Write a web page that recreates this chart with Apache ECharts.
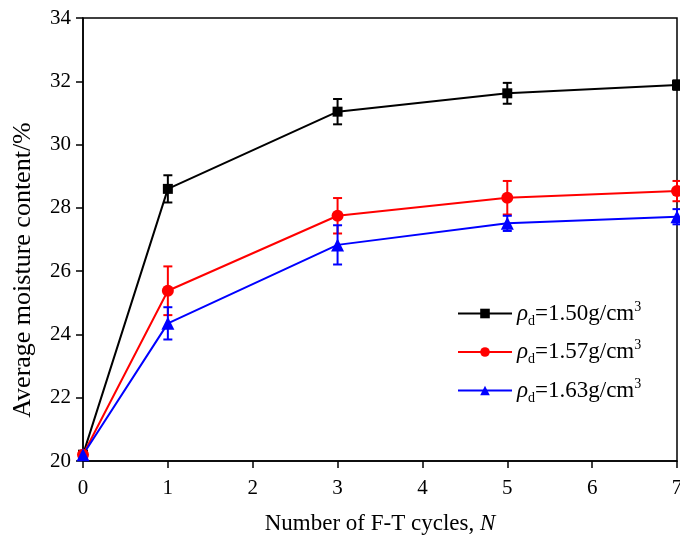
<!DOCTYPE html>
<html>
<head>
<meta charset="utf-8">
<script src="https://cdn.jsdelivr.net/npm/echarts@6/dist/echarts.min.js"></script>
<style>
  html, body { margin: 0; padding: 0; background: #fff; }
  #main { width: 680px; height: 541px; }
</style>
</head>
<body>
<div id="main"></div>
<script>
// F-T cycles
var cycles = [0, 1, 3, 5, 7];
var densities = ['1.50', '1.57', '1.63'];
var colors = ['#000000', '#ff0000', '#0000ff'];
var symbols = ['rect', 'circle', 'triangle'];

// average moisture content (%) and error
var m150 = [20.2, 28.6, 31.04, 31.62, 31.88];
var e150 = [0, 0.43, 0.4, 0.33, 0.15];
var m157 = [20.2, 25.38, 27.75, 28.32, 28.53];
var e157 = [0, 0.77, 0.56, 0.53, 0.32];
var m163 = [20.2, 24.35, 26.83, 27.51, 27.72];
var e163 = [0, 0.51, 0.62, 0.24, 0.24];

var means = [m150, m157, m163];
var errs = [e150, e157, e163];

var font = 'Liberation Serif';

var chartDom = document.getElementById('main');
var myChart = echarts.init(chartDom);
var option;

var series = [];
densities.forEach(function (d, i) {
  series.push({
    name: d,
    type: 'line',
    data: cycles.map(function (c, j) { return [c, means[i][j]]; }),
    symbol: symbols[i],
    symbolSize: [10, 12, 13][i],
    lineStyle: { color: colors[i], width: 2 },
    itemStyle: { color: colors[i] },
    z: 3
  });
});
densities.forEach(function (d, i) {
  series.push({
    name: d + ' err',
    type: 'custom',
    data: cycles.map(function (c, j) { return [c, means[i][j], errs[i][j]]; }),
    z: 4,
    renderItem: function (params, api) {
      var x = api.value(0), y = api.value(1), e = api.value(2);
      if (!e) return;
      var top = api.coord([x, y + e]);
      var bot = api.coord([x, y - e]);
      var w = 4.5;
      var st = { stroke: colors[i], lineWidth: 2 };
      return {
        type: 'group',
        children: [
          { type: 'line', shape: { x1: top[0], y1: top[1], x2: bot[0], y2: bot[1] }, style: st },
          { type: 'line', shape: { x1: top[0] - w, y1: top[1], x2: top[0] + w, y2: top[1] }, style: st },
          { type: 'line', shape: { x1: bot[0] - w, y1: bot[1], x2: bot[0] + w, y2: bot[1] }, style: st }
        ]
      };
    }
  });
});

option = {
  backgroundColor: '#fff',
  animation: false,
  grid: {
    left: 83, right: 3, top: 18, bottom: 80,
    outerBoundsMode: 'none',
    containLabel: false,
    show: true, borderColor: '#000', borderWidth: 1.5
  },
  legend: {
    data: densities,
    orient: 'vertical',
    left: 452,
    top: 295,
    itemWidth: 54,
    itemHeight: 12,
    itemGap: 10.5,
    formatter: function (name) {
      return '{r|ρ}{sub|d}{t|=' + name + 'g/cm}{sup|3}';
    },
    textStyle: {
      color: '#000',
      fontFamily: font,
      fontSize: 23,
      rich: {
        r: { fontFamily: font, fontSize: 23, fontStyle: 'italic', color: '#000' },
        sub: { fontFamily: font, fontSize: 14, color: '#000', padding: [15, 0, 0, 0] },
        t: { fontFamily: font, fontSize: 23, color: '#000' },
        sup: { fontFamily: font, fontSize: 14, color: '#000', padding: [0, 0, 13, 0] }
      }
    }
  },
  graphic: [
    {
      type: 'text',
      x: 23, y: 270,
      rotation: Math.PI / 2,
      style: {
        text: 'Average moisture content/%',
        fill: '#000',
        font: '26px "Liberation Serif"',
        textAlign: 'center',
        textVerticalAlign: 'middle'
      }
    },
    {
      type: 'text',
      x: 380, y: 524,
      style: {
        text: '{a|Number of F-T cycles, }{b|N}',
        textAlign: 'center',
        textVerticalAlign: 'middle',
        rich: {
          a: { fontFamily: font, fontSize: 23, fill: '#000' },
          b: { fontFamily: font, fontSize: 23, fontStyle: 'italic', fill: '#000' }
        }
      }
    }
  ],
  xAxis: {
    type: 'value',
    min: 0,
    max: 7,
    interval: 1,
    splitLine: { show: false },
    axisLine: { lineStyle: { color: '#000', width: 1.5 } },
    axisTick: { inside: false, length: 7, lineStyle: { color: '#000', width: 1.5 } },
    axisLabel: { color: '#000', fontFamily: font, fontSize: 21, margin: 17 }
  },
  yAxis: {
    type: 'value',
    min: 20,
    max: 34,
    interval: 2,
    splitLine: { show: false },
    axisLine: { lineStyle: { color: '#000', width: 1.5 } },
    axisTick: { inside: false, length: 7, lineStyle: { color: '#000', width: 1.5 } },
    axisLabel: { color: '#000', fontFamily: font, fontSize: 21, margin: 12 }
  },
  series: series
};

option && myChart.setOption(option);
</script>
</body>
</html>
